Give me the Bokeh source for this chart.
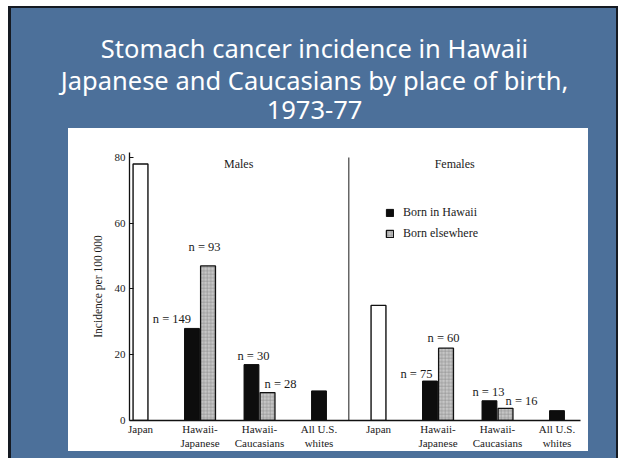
from bokeh.plotting import figure
from bokeh.models import Range1d, FixedTicker, Label, Legend, LegendItem, ColumnDataSource, Spacer
from bokeh.layouts import column, row
from bokeh.embed import file_html
from bokeh.resources import INLINE
from bokeh.core.properties import value

# ---------------- data ----------------
title_lines = ["Stomach cancer incidence in Hawaii",
               "Japanese and Caucasians by place of birth,",
               "1973-77"]
sexes = ["Males", "Females"]
categories = ["Japan", "Hawaii-Japanese", "Hawaii-Caucasians", "All U.S. whites"]
tick_labels = ["Japan", "Hawaii-\nJapanese", "Hawaii-\nCaucasians", "All U.S.\nwhites"]
y_ticks = [0, 20, 40, 60, 80]

japan_rate = [78, 35]                      # males, females
us_whites_rate = [9, 3]                    # males, females
hawaii_cats = ["Hawaii-Japanese", "Hawaii-Caucasians"]
born_hawaii_male = [28, 17]
born_hawaii_female = [12, 6]
born_elsewhere_male = [47, 8.5]
born_elsewhere_female = [22, 3.7]
born_hawaii_n_male = [149, 30]
born_hawaii_n_female = [75, 13]
born_elsewhere_n_male = [93, 28]
born_elsewhere_n_female = [60, 16]

# label nudges (pixels) for the n = ... annotations: M-HJ, M-HC, F-HJ, F-HC
hawaii_dx = [-20, 2, -13.5, -1]
hawaii_dy = [-9, -9, -7, -9]
else_dx = [-3.5, 13, -2.5, 16]
else_dy = [-19, -9, -10, -7]

# ---------------- styles ----------------
BLUE = "#4c709a"
SERIF = "Liberation Serif"
INK = "#1a1a1a"
BAR_W = 0.25
DODGE = 0.135
SLIDE_W = 610
TITLE_H = 122
CHART_H = 323


def pos(sex_i, cat):
    return sex_i * len(categories) + categories.index(cat)


# ---------------- title figure ----------------
t = figure(width=SLIDE_W, height=TITLE_H, x_range=Range1d(0, SLIDE_W), y_range=Range1d(0, TITLE_H),
           output_backend="svg", toolbar_location=None, min_border=0,
           x_axis_location=None, y_axis_location=None)
t.grid.visible = False
t.outline_line_color = None
t.border_fill_alpha = 0
t.background_fill_alpha = 0
for line, yy in zip(title_lines, [81, 49, 19]):
    t.add_layout(Label(x=306, y=yy, text=line, text_align="center", text_baseline="middle",
                       text_color="white", text_font="Noto Sans", text_font_size="25.5px"))

# ---------------- chart figure ----------------
p = figure(width=520, height=CHART_H, x_range=Range1d(-0.185, 7.395), y_range=Range1d(0, 81.5),
           output_backend="svg", toolbar_location=None,
           min_border_left=61, min_border_right=8, min_border_top=24, min_border_bottom=31,
           styles={"background-color": "white"})
p.grid.visible = False
p.outline_line_color = None
p.background_fill_color = "white"
p.border_fill_color = "white"

# white Japan bars
jx = [pos(s, "Japan") for s in range(len(sexes))]
p.vbar(x=jx, top=japan_rate, width=BAR_W, fill_color="white", line_color="#111111", line_width=1.4)

hx, htop, hn = [], [], []
ex, etop, en = [], [], []
for s, (bh, be, nh, ne) in enumerate([(born_hawaii_male, born_elsewhere_male, born_hawaii_n_male, born_elsewhere_n_male),
                                      (born_hawaii_female, born_elsewhere_female, born_hawaii_n_female, born_elsewhere_n_female)]):
    for k, cat in enumerate(hawaii_cats):
        hx.append(pos(s, cat) - DODGE)
        htop.append(bh[k])
        hn.append(nh[k])
        ex.append(pos(s, cat) + DODGE)
        etop.append(be[k])
        en.append(ne[k])

# born in Hawaii (black) and born elsewhere (stippled grey)
r_h = p.vbar(x=hx, top=htop, width=BAR_W, fill_color="#0d0d0d", line_color="#0d0d0d", line_width=1)
r_e = p.vbar(x=ex, top=etop, width=BAR_W, fill_color="#c6c6c6", line_color="#111111", line_width=1.3,
             hatch_pattern="cross", hatch_color="#8e8e8e", hatch_scale=3.5, hatch_weight=0.6)

# All U.S. whites (black)
ux = [pos(s, "All U.S. whites") for s in range(len(sexes))]
p.vbar(x=ux, top=us_whites_rate, width=BAR_W, fill_color="#0d0d0d", line_color="#0d0d0d", line_width=1)

# n = ... labels
lab = ColumnDataSource(dict(
    x=hx + ex, y=htop + etop,
    text=[f"n = {n}" for n in hn + en],
    dx=hawaii_dx + else_dx, dy=hawaii_dy + else_dy))
p.text(x="x", y="y", text="text", x_offset="dx", y_offset="dy", source=lab,
       text_align="center", text_baseline="middle", text_font=value(SERIF),
       text_font_size="12.5px", text_color=INK)

# divider between sexes
div_x = len(categories) - 0.5
p.segment(x0=[div_x], y0=[y_ticks[0]], x1=[div_x], y1=[y_ticks[-1]], line_color="#666666", line_width=1.5)

# panel headers
for name, xx in zip(sexes, [1.65, 5.28]):
    p.add_layout(Label(x=xx, y=78, text=name, text_align="center", text_baseline="middle",
                       text_font=SERIF, text_font_size="12px", text_color=INK))

# legend
legend = Legend(items=[LegendItem(label="Born in Hawaii", renderers=[r_h]),
                       LegendItem(label="Born elsewhere", renderers=[r_e])],
                location=(256, 179), orientation="vertical")
legend.glyph_width = 9
legend.glyph_height = 9
legend.label_height = 12
legend.label_standoff = 9
legend.spacing = 6
legend.padding = 0
legend.margin = 0
legend.border_line_color = None
legend.background_fill_alpha = 0
legend.label_text_font = SERIF
legend.label_text_font_size = "12px"
legend.label_text_color = INK
p.add_layout(legend)

# axes
xa = p.xaxis[0]
xa.ticker = FixedTicker(ticks=list(range(len(sexes) * len(categories))))
xa.major_label_overrides = {s * len(categories) + i: lbl
                            for s in range(len(sexes)) for i, lbl in enumerate(tick_labels)}
xa.major_tick_in = 0
xa.major_tick_out = 0
xa.minor_tick_in = 0
xa.minor_tick_out = 0
xa.axis_line_color = "#111111"
xa.axis_line_width = 1.3
xa.major_label_standoff = 2
xa.major_label_text_font = SERIF
xa.major_label_text_font_size = "11px"
xa.major_label_text_color = INK

ya = p.yaxis[0]
ya.ticker = FixedTicker(ticks=y_ticks)
ya.major_tick_in = 4
ya.major_tick_out = 0
ya.minor_tick_in = 0
ya.minor_tick_out = 0
ya.axis_line_color = "#111111"
ya.axis_line_width = 1.3
ya.major_tick_line_color = "#111111"
ya.major_label_standoff = 4
ya.major_label_text_font = SERIF
ya.major_label_text_font_size = "11px"
ya.major_label_text_color = INK
ya.axis_label = "Incidence per 100 000"
ya.axis_label_text_font = SERIF
ya.axis_label_text_font_style = "normal"
ya.axis_label_text_font_size = "11.5px"
ya.axis_label_text_color = INK
ya.axis_label_standoff = 8

chart_row = row(Spacer(width=60, height=CHART_H), p, width=SLIDE_W, height=CHART_H, spacing=0)
page = column(t, chart_row, width=SLIDE_W, height=452, spacing=0, margin=(6, 0, 0, 8),
              styles={"background-color": BLUE,
                      "box-shadow": "inset 3px 2px 0 0 #151a22, inset -2px 0 0 0 #151a22"})

open("out.html", "w").write(file_html(page, INLINE))
